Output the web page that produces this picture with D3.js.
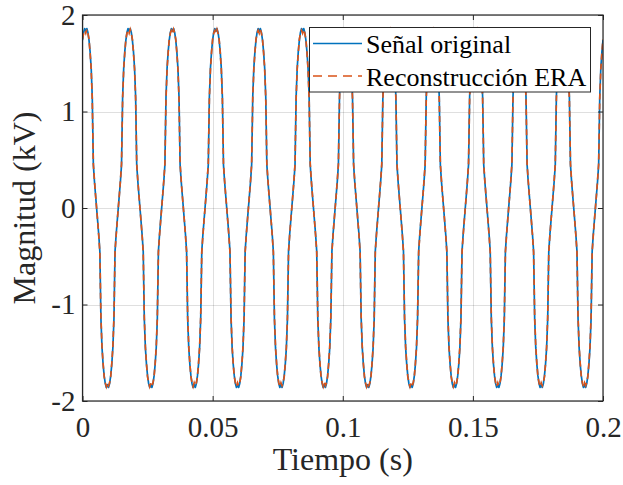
<!DOCTYPE html>
<html><head><meta charset="utf-8">
<script src="https://cdn.jsdelivr.net/npm/d3@7"></script>
<style>html,body{margin:0;padding:0;background:#fff;}svg{display:block;}</style>
</head><body>
<svg id="chart" width="623" height="485"></svg>
<script>
// ---- data ----
const sampleRate = 2400; // samples per second (x of sample i = i / sampleRate)
const xTicks = [0, 0.05, 0.1, 0.15, 0.2];
const xTickLabels = ["0", "0.05", "0.1", "0.15", "0.2"];
const yTicks = [-2, -1, 0, 1, 2];
const yTickLabels = ["-2", "-1", "0", "1", "2"];
const seriesNames = ["Señal original", "Reconstrucción ERA"];
const xLabel = "Tiempo (s)";
const yLabel = "Magnitud (kV)";

const original = [
1.74,1.82,1.86,1.83,1.86,1.82,1.74,1.62,1.45,1.15,0.45,0.28,0.14,0.00,-0.14,-0.28,-0.45,-1.15,-1.45,-1.62,-1.74,-1.82,-1.86,-1.83,-1.86,-1.82,-1.74,-1.62,-1.45,-1.15,-0.45,-0.28,-0.14,0.00,0.14,0.28,0.45,1.15,1.45,1.62,
1.74,1.82,1.86,1.83,1.86,1.82,1.74,1.62,1.45,1.15,0.45,0.28,0.14,0.00,-0.14,-0.28,-0.45,-1.15,-1.45,-1.62,-1.74,-1.82,-1.86,-1.83,-1.86,-1.82,-1.74,-1.62,-1.45,-1.15,-0.45,-0.28,-0.14,0.00,0.14,0.28,0.45,1.15,1.45,1.62,
1.74,1.82,1.86,1.83,1.86,1.82,1.74,1.62,1.45,1.15,0.45,0.28,0.14,0.00,-0.14,-0.28,-0.45,-1.15,-1.45,-1.62,-1.74,-1.82,-1.86,-1.83,-1.86,-1.82,-1.74,-1.62,-1.45,-1.15,-0.45,-0.28,-0.14,0.00,0.14,0.28,0.45,1.15,1.45,1.62,
1.74,1.82,1.86,1.83,1.86,1.82,1.74,1.62,1.45,1.15,0.45,0.28,0.14,0.00,-0.14,-0.28,-0.45,-1.15,-1.45,-1.62,-1.74,-1.82,-1.86,-1.83,-1.86,-1.82,-1.74,-1.62,-1.45,-1.15,-0.45,-0.28,-0.14,0.00,0.14,0.28,0.45,1.15,1.45,1.62,
1.74,1.82,1.86,1.83,1.86,1.82,1.74,1.62,1.45,1.15,0.45,0.28,0.14,0.00,-0.14,-0.28,-0.45,-1.15,-1.45,-1.62,-1.74,-1.82,-1.86,-1.83,-1.86,-1.82,-1.74,-1.62,-1.45,-1.15,-0.45,-0.28,-0.14,0.00,0.14,0.28,0.45,1.15,1.45,1.62,
1.74,1.82,1.86,1.83,1.86,1.82,1.74,1.62,1.45,1.15,0.45,0.28,0.14,0.00,-0.14,-0.28,-0.45,-1.15,-1.45,-1.62,-1.74,-1.82,-1.86,-1.83,-1.86,-1.82,-1.74,-1.62,-1.45,-1.15,-0.45,-0.28,-0.14,0.00,0.14,0.28,0.45,1.15,1.45,1.62,
1.74,1.82,1.86,1.83,1.86,1.82,1.74,1.62,1.45,1.15,0.45,0.28,0.14,0.00,-0.14,-0.28,-0.45,-1.15,-1.45,-1.62,-1.74,-1.82,-1.86,-1.83,-1.86,-1.82,-1.74,-1.62,-1.45,-1.15,-0.45,-0.28,-0.14,0.00,0.14,0.28,0.45,1.15,1.45,1.62,
1.74,1.82,1.86,1.83,1.86,1.82,1.74,1.62,1.45,1.15,0.45,0.28,0.14,0.00,-0.14,-0.28,-0.45,-1.15,-1.45,-1.62,-1.74,-1.82,-1.86,-1.83,-1.86,-1.82,-1.74,-1.62,-1.45,-1.15,-0.45,-0.28,-0.14,0.00,0.14,0.28,0.45,1.15,1.45,1.62,
1.74,1.82,1.86,1.83,1.86,1.82,1.74,1.62,1.45,1.15,0.45,0.28,0.14,0.00,-0.14,-0.28,-0.45,-1.15,-1.45,-1.62,-1.74,-1.82,-1.86,-1.83,-1.86,-1.82,-1.74,-1.62,-1.45,-1.15,-0.45,-0.28,-0.14,0.00,0.14,0.28,0.45,1.15,1.45,1.62,
1.74,1.82,1.86,1.83,1.86,1.82,1.74,1.62,1.45,1.15,0.45,0.28,0.14,0.00,-0.14,-0.28,-0.45,-1.15,-1.45,-1.62,-1.74,-1.82,-1.86,-1.83,-1.86,-1.82,-1.74,-1.62,-1.45,-1.15,-0.45,-0.28,-0.14,0.00,0.14,0.28,0.45,1.15,1.45,1.62,
1.74,1.82,1.86,1.83,1.86,1.82,1.74,1.62,1.45,1.15,0.45,0.28,0.14,0.00,-0.14,-0.28,-0.45,-1.15,-1.45,-1.62,-1.74,-1.82,-1.86,-1.83,-1.86,-1.82,-1.74,-1.62,-1.45,-1.15,-0.45,-0.28,-0.14,0.00,0.14,0.28,0.45,1.15,1.45,1.62,
1.74,1.82,1.86,1.83,1.86,1.82,1.74,1.62,1.45,1.15,0.45,0.28,0.14,0.00,-0.14,-0.28,-0.45,-1.15,-1.45,-1.62,-1.74,-1.82,-1.86,-1.83,-1.86,-1.82,-1.74,-1.62,-1.45,-1.15,-0.45,-0.28,-0.14,0.00,0.14,0.28,0.45,1.15,1.45,1.62,
1.74
];

const reconstruction = [
1.75,1.81,1.84,1.81,1.85,1.81,1.75,1.61,1.44,1.13,0.46,0.29,0.14,0.00,-0.14,-0.29,-0.46,-1.13,-1.44,-1.61,-1.75,-1.81,-1.85,-1.81,-1.84,-1.81,-1.75,-1.61,-1.44,-1.13,-0.46,-0.29,-0.14,0.00,0.14,0.29,0.46,1.13,1.44,1.61,
1.75,1.81,1.84,1.81,1.85,1.81,1.75,1.61,1.44,1.13,0.46,0.29,0.14,0.00,-0.14,-0.29,-0.46,-1.13,-1.44,-1.61,-1.75,-1.81,-1.85,-1.81,-1.84,-1.81,-1.75,-1.61,-1.44,-1.13,-0.46,-0.29,-0.14,0.00,0.14,0.29,0.46,1.13,1.44,1.61,
1.75,1.81,1.84,1.81,1.85,1.81,1.75,1.61,1.44,1.13,0.46,0.29,0.14,0.00,-0.14,-0.29,-0.46,-1.13,-1.44,-1.61,-1.75,-1.81,-1.85,-1.81,-1.84,-1.81,-1.75,-1.61,-1.44,-1.13,-0.46,-0.29,-0.14,0.00,0.14,0.29,0.46,1.13,1.44,1.61,
1.75,1.81,1.84,1.81,1.85,1.81,1.75,1.61,1.44,1.13,0.46,0.29,0.14,0.00,-0.14,-0.29,-0.46,-1.13,-1.44,-1.61,-1.75,-1.81,-1.85,-1.81,-1.84,-1.81,-1.75,-1.61,-1.44,-1.13,-0.46,-0.29,-0.14,0.00,0.14,0.29,0.46,1.13,1.44,1.61,
1.75,1.81,1.84,1.81,1.85,1.81,1.75,1.61,1.44,1.13,0.46,0.29,0.14,0.00,-0.14,-0.29,-0.46,-1.13,-1.44,-1.61,-1.75,-1.81,-1.85,-1.81,-1.84,-1.81,-1.75,-1.61,-1.44,-1.13,-0.46,-0.29,-0.14,0.00,0.14,0.29,0.46,1.13,1.44,1.61,
1.75,1.81,1.84,1.81,1.85,1.81,1.75,1.61,1.44,1.13,0.46,0.29,0.14,0.00,-0.14,-0.29,-0.46,-1.13,-1.44,-1.61,-1.75,-1.81,-1.85,-1.81,-1.84,-1.81,-1.75,-1.61,-1.44,-1.13,-0.46,-0.29,-0.14,0.00,0.14,0.29,0.46,1.13,1.44,1.61,
1.75,1.81,1.84,1.81,1.85,1.81,1.75,1.61,1.44,1.13,0.46,0.29,0.14,0.00,-0.14,-0.29,-0.46,-1.13,-1.44,-1.61,-1.75,-1.81,-1.85,-1.81,-1.84,-1.81,-1.75,-1.61,-1.44,-1.13,-0.46,-0.29,-0.14,0.00,0.14,0.29,0.46,1.13,1.44,1.61,
1.75,1.81,1.84,1.81,1.85,1.81,1.75,1.61,1.44,1.13,0.46,0.29,0.14,0.00,-0.14,-0.29,-0.46,-1.13,-1.44,-1.61,-1.75,-1.81,-1.85,-1.81,-1.84,-1.81,-1.75,-1.61,-1.44,-1.13,-0.46,-0.29,-0.14,0.00,0.14,0.29,0.46,1.13,1.44,1.61,
1.75,1.81,1.84,1.81,1.85,1.81,1.75,1.61,1.44,1.13,0.46,0.29,0.14,0.00,-0.14,-0.29,-0.46,-1.13,-1.44,-1.61,-1.75,-1.81,-1.85,-1.81,-1.84,-1.81,-1.75,-1.61,-1.44,-1.13,-0.46,-0.29,-0.14,0.00,0.14,0.29,0.46,1.13,1.44,1.61,
1.75,1.81,1.84,1.81,1.85,1.81,1.75,1.61,1.44,1.13,0.46,0.29,0.14,0.00,-0.14,-0.29,-0.46,-1.13,-1.44,-1.61,-1.75,-1.81,-1.85,-1.81,-1.84,-1.81,-1.75,-1.61,-1.44,-1.13,-0.46,-0.29,-0.14,0.00,0.14,0.29,0.46,1.13,1.44,1.61,
1.75,1.81,1.84,1.81,1.85,1.81,1.75,1.61,1.44,1.13,0.46,0.29,0.14,0.00,-0.14,-0.29,-0.46,-1.13,-1.44,-1.61,-1.75,-1.81,-1.85,-1.81,-1.84,-1.81,-1.75,-1.61,-1.44,-1.13,-0.46,-0.29,-0.14,0.00,0.14,0.29,0.46,1.13,1.44,1.61,
1.75,1.81,1.84,1.81,1.85,1.81,1.75,1.61,1.44,1.13,0.46,0.29,0.14,0.00,-0.14,-0.29,-0.46,-1.13,-1.44,-1.61,-1.75,-1.81,-1.85,-1.81,-1.84,-1.81,-1.75,-1.61,-1.44,-1.13,-0.46,-0.29,-0.14,0.00,0.14,0.29,0.46,1.13,1.44,1.61,
1.75
];

// ---- layout & style ----
const plot = {left: 82.5, right: 603, top: 15, bottom: 401};
const colors = ["#0072BD", "#D95319"];
const axisColor = "#262626";
const serif = "'Liberation Serif','Times New Roman',Times,serif";

const svg = d3.select("#chart");
const x = d3.scaleLinear().domain([0, 0.2]).range([plot.left, plot.right]);
const y = d3.scaleLinear().domain([-2, 2]).range([plot.bottom, plot.top]);

// grid
const grid = svg.append("g").attr("stroke", axisColor).attr("stroke-opacity", 0.15).attr("stroke-width", 1);
grid.selectAll("line.gx").data(xTicks).join("line")
  .attr("x1", d => Math.round(x(d)) + 0.5).attr("x2", d => Math.round(x(d)) + 0.5)
  .attr("y1", plot.top).attr("y2", plot.bottom);
grid.selectAll("line.gy").data(yTicks).join("line")
  .attr("y1", d => Math.round(y(d)) + 0.5).attr("y2", d => Math.round(y(d)) + 0.5)
  .attr("x1", plot.left).attr("x2", plot.right);

// clip
svg.append("defs").append("clipPath").attr("id", "clip").append("rect")
  .attr("x", plot.left).attr("y", plot.top)
  .attr("width", plot.right - plot.left).attr("height", plot.bottom - plot.top);

const line = d3.line().x((d, i) => x(i / sampleRate)).y(d => y(d));
const lines = svg.append("g").attr("clip-path", "url(#clip)");
lines.append("path").datum(original).attr("d", line)
  .attr("fill", "none").attr("stroke", colors[0]).attr("stroke-width", 1.7).attr("stroke-linejoin", "round");
lines.append("path").datum(reconstruction).attr("d", line)
  .attr("fill", "none").attr("stroke", colors[1]).attr("stroke-width", 1.7)
  .attr("stroke-dasharray", "6,4");

// axes
function styleAxis(g) {
  g.select(".domain").remove();
  g.selectAll(".tick line").attr("stroke", axisColor).attr("stroke-width", 1);
  g.selectAll(".tick text").attr("fill", axisColor).style("font-family", serif).style("font-size", "29px");
}
svg.append("g").attr("transform", `translate(0,${plot.bottom})`)
  .call(d3.axisBottom(x).tickValues(xTicks).tickFormat((d, i) => xTickLabels[i]).tickSizeInner(-5).tickSizeOuter(0).tickPadding(15))
  .call(styleAxis);
svg.append("g").attr("transform", `translate(0,${plot.top})`)
  .call(d3.axisTop(x).tickValues(xTicks).tickFormat("").tickSizeInner(-5).tickSizeOuter(0))
  .call(styleAxis);
svg.append("g").attr("transform", `translate(${plot.left},0)`)
  .call(d3.axisLeft(y).tickValues(yTicks).tickFormat((d, i) => yTickLabels[i]).tickSizeInner(-5).tickSizeOuter(0).tickPadding(7))
  .call(styleAxis);
svg.append("g").attr("transform", `translate(${plot.right},0)`)
  .call(d3.axisRight(y).tickValues(yTicks).tickFormat("").tickSizeInner(-5).tickSizeOuter(0))
  .call(styleAxis);

// frame
svg.append("rect").attr("x", plot.left).attr("y", plot.top)
  .attr("width", plot.right - plot.left).attr("height", plot.bottom - plot.top)
  .attr("fill", "none").attr("stroke", axisColor).attr("stroke-width", 1.2);

// axis labels
svg.append("text").attr("x", (plot.left + plot.right) / 2).attr("y", 470)
  .attr("text-anchor", "middle").attr("fill", axisColor)
  .style("font-family", serif).style("font-size", "32px").text(xLabel);
svg.append("text").attr("transform", `translate(35,${(plot.top + plot.bottom) / 2}) rotate(-90)`)
  .attr("text-anchor", "middle").attr("fill", axisColor)
  .style("font-family", serif).style("font-size", "32px").text(yLabel);

// legend
const leg = svg.append("g");
leg.append("rect").attr("x", 309.5).attr("y", 27.5).attr("width", 281).attr("height", 64.5)
  .attr("fill", "#fff").attr("stroke", axisColor).attr("stroke-width", 1);
const legY = [43.5, 76];
seriesNames.forEach((name, i) => {
  leg.append("line").attr("x1", 313).attr("x2", 362).attr("y1", legY[i]).attr("y2", legY[i])
    .attr("stroke", colors[i]).attr("stroke-width", 1.7)
    .attr("stroke-dasharray", i === 1 ? "9,6" : null);
  leg.append("text").attr("x", 366).attr("y", legY[i] + 9.5).attr("fill", "#000")
    .style("font-family", serif).style("font-size", "26px").text(name);
});
</script>
</body></html>
